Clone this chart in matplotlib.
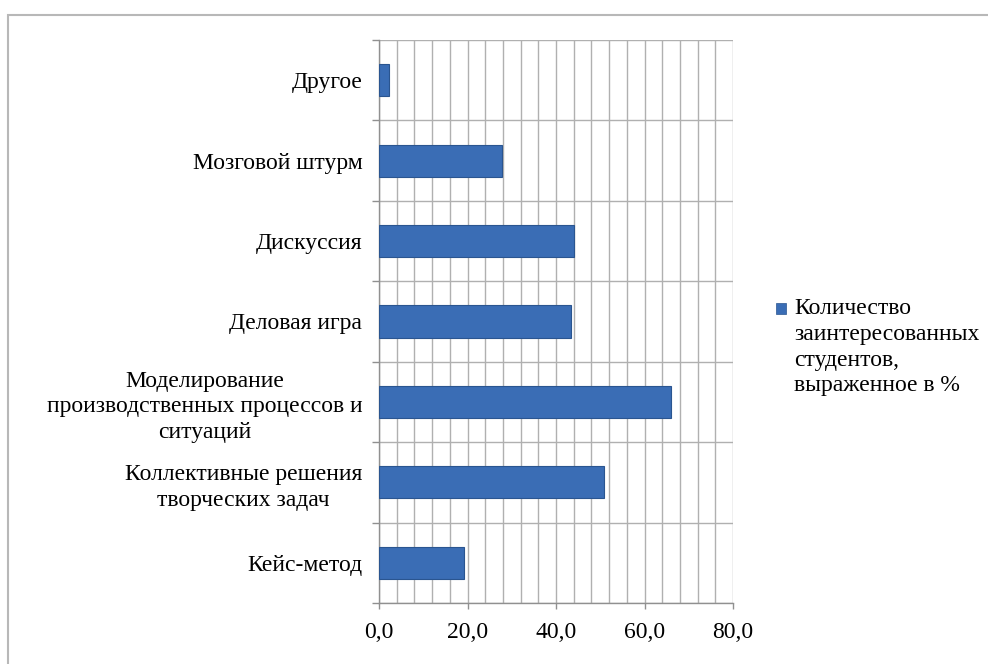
import matplotlib
matplotlib.use("Agg")
import matplotlib.pyplot as plt
import matplotlib.ticker as ticker
from matplotlib.patches import Rectangle

# Data (bottom to top, as drawn)
categories = [
    "Кейс-метод",
    "Коллективные решения\nтворческих задач",
    "Моделирование\nпроизводственных процессов и\nситуаций",
    "Деловая игра",
    "Дискуссия",
    "Мозговой штурм",
    "Другое",
]
values = [19.2, 50.9, 66.0, 43.4, 44.1, 27.9, 2.3]
series_label = "Количество\nзаинтересованных\nстудентов,\nвыраженное в %"

plt.rcParams['font.family'] = ['Liberation Serif', 'DejaVu Serif']
plt.rcParams['font.size'] = 17

fig = plt.figure(figsize=(9.88, 6.64), dpi=100)
ax = fig.add_axes([379 / 988, 1 - 603 / 664, (733 - 379) / 988, (603 - 40) / 664])

# outer chart frame
fig.patches.append(Rectangle((8 / 988, -0.1), 1.2, 1 - 15 / 664 + 0.1, transform=fig.transFigure,
                             fill=False, edgecolor='#b8b8b8', linewidth=1.5, zorder=0))

ypos = list(range(len(categories)))
ax.barh(ypos, values, height=0.4, color='#3a6db5', edgecolor='#2a5590', linewidth=0.8, zorder=3)

ax.set_xlim(0, 80)
ax.set_ylim(-0.5, len(categories) - 0.5)

# x axis
ax.xaxis.set_major_locator(ticker.MultipleLocator(20))
ax.xaxis.set_minor_locator(ticker.MultipleLocator(4))
ax.xaxis.set_major_formatter(ticker.FuncFormatter(lambda x, _: f'{x:.1f}'.replace('.', ',')))
ax.tick_params(axis='x', which='major', length=4, width=1, color='#909090', pad=10, labelsize=17)
ax.tick_params(axis='x', which='minor', length=0)

# y axis
ax.set_yticks(ypos)
ax.set_yticklabels(categories, multialignment='center', linespacing=1.3)
ax.set_yticks([y + 0.5 for y in range(-1, len(categories))], minor=True)
ax.tick_params(axis='y', which='major', length=0, pad=12, labelsize=17)
ax.tick_params(axis='y', which='minor', length=5, width=1, color='#909090')

ax.grid(True, axis='x', which='both', color='#b0b0b0', linewidth=1, zorder=0)
ax.grid(True, axis='y', which='minor', color='#b0b0b0', linewidth=1, zorder=0)
ax.set_axisbelow(True)

for s in ['top', 'right']:
    ax.spines[s].set_visible(False)
for s in ['left', 'bottom']:
    ax.spines[s].set_color('#909090')
    ax.spines[s].set_linewidth(1)

# legend
fig.patches.append(Rectangle((776 / 988, 1 - 314 / 664), 10 / 988, 11 / 664, transform=fig.transFigure,
                             facecolor='#3a6db5', edgecolor='#2a5590', linewidth=0.5))
fig.text(794 / 988, 1 - 298 / 664, series_label, ha='left', va='top', fontsize=17, linespacing=1.3)

plt.savefig("out.png", dpi=100)
